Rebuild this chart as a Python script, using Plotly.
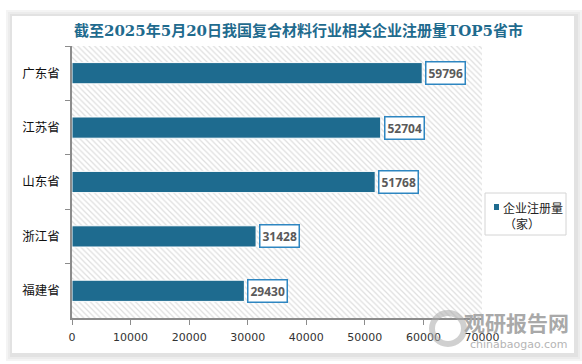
import plotly.graph_objects as go

provinces = ["广东省", "江苏省", "山东省", "浙江省", "福建省"]
counts = [59796, 52704, 51768, 31428, 29430]
x_ticks = [0, 10000, 20000, 30000, 40000, 50000, 60000, 70000]
title_text = "截至2025年5月20日我国复合材料行业相关企业注册量TOP5省市"
legend_line1 = "企业注册量"
legend_line2 = "（家）"

BAR = "#1e6b8f"
W, H = 582, 364
L, R, T, B = 72, 100, 46, 46
PW, PH = W - L - R, H - T - B


def px_x(x):
    return (x - L) / PW


def px_y(y_from_top):
    return (H - y_from_top - B) / PH


fig = go.Figure()

# hatched plot background (base subplot, drawn beneath the data subplot)
fig.add_trace(go.Bar(
    x=[x_ticks[-1]], y=[0.5], width=[1], orientation="h", base=0,
    xaxis="x", yaxis="y", showlegend=False, hoverinfo="skip",
    marker=dict(color="white", line=dict(width=0),
                pattern=dict(shape="\\", fgcolor="#bdbdbd", bgcolor="white",
                             size=4, solidity=0.3)),
))

# data bars
fig.add_trace(go.Bar(
    x=counts, y=provinces, orientation="h", name=legend_line1 + legend_line2,
    xaxis="x", yaxis="y2", width=0.39, showlegend=False,
    marker=dict(color=BAR, line=dict(color="white", width=1)),
))

annotations = []
for p, v in zip(provinces, counts):
    annotations.append(dict(
        x=v, y=p, xref="x", yref="y2", text="<b>%d</b>" % v,
        showarrow=False, xanchor="left", xshift=3,
        font=dict(family="Open Sans, Liberation Sans, sans-serif", size=12, color="#5a5a5a"),
        bgcolor="white", bordercolor="#2e86c1", borderwidth=1.5, borderpad=2,
    ))

# title
annotations.append(dict(
    x=px_x(298), y=px_y(31), xref="paper", yref="paper", text="<b>" + title_text + "</b>",
    showarrow=False, xanchor="center", yanchor="middle",
    font=dict(family="DejaVu Serif, Noto Sans CJK SC", size=15, color="#1f6b8e"),
))
# legend text (manual legend)
annotations.append(dict(
    x=px_x(501), y=px_y(207), xref="paper", yref="paper", text=legend_line1,
    showarrow=False, xanchor="left", yanchor="middle",
    font=dict(family="Noto Sans CJK SC", size=12, color="#222"),
))
annotations.append(dict(
    x=px_x(502), y=px_y(223), xref="paper", yref="paper", text=legend_line2,
    showarrow=False, xanchor="left", yanchor="middle",
    font=dict(family="Noto Sans CJK SC", size=12, color="#222"),
))
# watermark
annotations.append(dict(
    x=px_x(571), y=px_y(322), xref="paper", yref="paper", text="<b>观研报告网</b>",
    showarrow=False, xanchor="right", yanchor="middle",
    font=dict(family="Noto Sans CJK SC", size=21, color="#a9a9a9"),
))
annotations.append(dict(
    x=px_x(570), y=px_y(344), xref="paper", yref="paper", text="chinabaogao.com",
    showarrow=False, xanchor="right", yanchor="middle",
    font=dict(family="DejaVu Sans, sans-serif", size=11, color="#b5b5b5"),
))

shapes = []
# card shadow + card
for i, c in enumerate(["#f4f4f4", "#ececec", "#e2e2e2"]):
    d = 6 - 2 * i
    shapes.append(dict(type="rect", xref="paper", yref="paper", layer="below",
                       x0=px_x(12 - d), x1=px_x(574 + d + 2),
                       y0=px_y(353 + d + 2), y1=px_y(16 - d),
                       fillcolor=c, line=dict(width=0)))
shapes.append(dict(type="rect", xref="paper", yref="paper", layer="below",
                   x0=px_x(12), x1=px_x(574), y0=px_y(353), y1=px_y(16),
                   fillcolor="white", line=dict(width=0)))
# legend box and swatch
shapes.append(dict(type="rect", xref="paper", yref="paper", layer="above",
                   x0=px_x(485), x1=px_x(566), y0=px_y(235), y1=px_y(193),
                   fillcolor="rgba(0,0,0,0)", line=dict(color="#d4d4d4", width=1)))
shapes.append(dict(type="rect", xref="paper", yref="paper", layer="above",
                   x0=px_x(494), x1=px_x(499), y0=px_y(210), y1=px_y(204),
                   fillcolor=BAR, line=dict(width=0)))
# watermark logo ring
shapes.append(dict(type="circle", xref="paper", yref="paper", layer="above",
                   x0=px_x(432), x1=px_x(464), y0=px_y(344), y1=px_y(313),
                   fillcolor="rgba(0,0,0,0)", line=dict(color="rgba(170,170,170,0.55)", width=6)))

fig.update_layout(
    width=W, height=H,
    margin=dict(l=L, r=R, t=T, b=B, autoexpand=False),
    paper_bgcolor="white", plot_bgcolor="rgba(0,0,0,0)",
    barmode="overlay",
    showlegend=False,
    xaxis=dict(range=[0, x_ticks[-1]], tickvals=x_ticks, ticktext=[str(t) for t in x_ticks],
               showgrid=False, zeroline=False, showline=True, linecolor="#8c8c8c", linewidth=1.5,
               ticks="outside", ticklen=5, tickcolor="#8c8c8c", ticklabelstandoff=3,
               tickfont=dict(family="DejaVu Sans, sans-serif", size=11, color="#333"), fixedrange=True),
    yaxis=dict(range=[0, 1], visible=False, fixedrange=True),
    yaxis2=dict(overlaying="y", anchor="x", side="left", type="category",
                categoryorder="array", categoryarray=provinces, autorange="reversed",
                showgrid=False, zeroline=False, showline=True, linecolor="#8c8c8c", linewidth=1.5,
                ticks="outside", ticklen=5, tickcolor="#8c8c8c", tickson="boundaries",
                tickfont=dict(family="Noto Sans CJK SC", size=12.5, color="#111"),
                ticklabelstandoff=8),
    annotations=annotations,
    shapes=shapes,
)

fig.write_html("out.html", config={"displayModeBar": False},
               post_script="document.body.style.margin='0';document.body.style.overflow='hidden';")
